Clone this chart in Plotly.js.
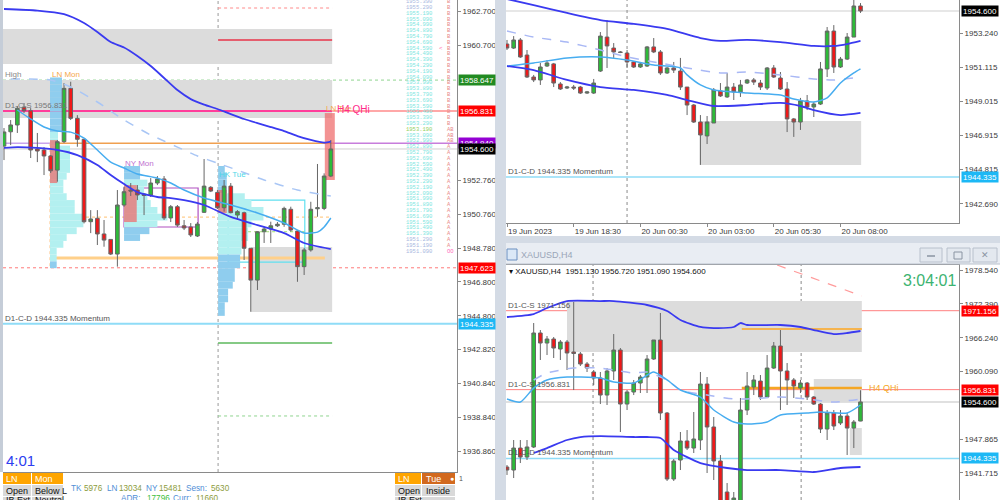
<!DOCTYPE html>
<html>
<head>
<meta charset="utf-8">
<script src="https://cdn.plot.ly/plotly-3.0.1.min.js"></script>
<style>
  html, body { margin: 0; padding: 0; background: #ffffff; }
  #chart { width: 1000px; height: 500px; }
</style>
</head>
<body>
<div id="chart"></div>
<script>
const FONT = 'Liberation Sans, Arial, sans-serif';
const MONO = 'Liberation Mono, DejaVu Sans Mono, monospace';

// ================= XAUUSD M15 (left pane) =================
const m15Open  = [1954.77,1955.61,1956.01,1957.05,1956.85,1954.60,1954.54,1954.19,1953.36,1955.03,1958.16,1956.40,1955.17,1950.33,1950.53,1949.61,1949.29,1948.43,1951.31,1952.19,1952.19,1951.95,1951.90,1952.60,1952.84,1950.55,1951.21,1950.09,1950.02,1949.49,1950.88,1952.35,1952.05,1951.15,1952.42,1950.72,1950.86,1948.77,1946.90,1949.74,1949.90,1950.09,1950.18,1951.06,1949.78,1947.69,1948.67,1951.09,1951.11,1953.01];
const m15High  = [1955.83,1956.30,1957.12,1957.30,1957.00,1955.54,1954.71,1954.24,1955.13,1958.47,1958.55,1956.59,1955.18,1951.01,1951.01,1950.43,1949.31,1952.19,1952.38,1952.60,1952.48,1952.01,1952.89,1953.01,1953.01,1951.31,1951.31,1950.43,1950.25,1950.31,1954.01,1952.42,1952.19,1952.78,1952.60,1951.01,1950.92,1948.78,1949.78,1950.03,1950.33,1950.31,1951.21,1951.21,1949.84,1948.78,1951.50,1953.72,1953.17,1955.13];
const m15Low   = [1953.95,1954.83,1955.54,1956.71,1954.07,1953.83,1953.07,1953.19,1952.68,1954.95,1956.30,1954.73,1950.23,1949.66,1948.96,1948.86,1948.37,1947.69,1951.21,1951.84,1951.60,1950.72,1951.78,1952.48,1950.43,1950.31,1950.02,1949.84,1949.43,1949.43,1950.84,1952.07,1951.07,1950.92,1950.82,1950.43,1948.08,1945.04,1946.32,1949.08,1949.08,1950.02,1950.03,1949.74,1946.80,1947.20,1948.57,1950.62,1951.01,1952.95];
const m15Close = [1955.60,1956.01,1956.99,1956.85,1954.54,1954.48,1954.19,1953.32,1955.03,1958.16,1956.40,1955.17,1950.33,1950.49,1949.61,1949.25,1948.43,1951.31,1952.09,1952.13,1951.90,1951.87,1952.60,1952.84,1950.55,1951.21,1950.13,1949.96,1949.55,1950.19,1952.42,1952.13,1951.15,1952.42,1950.86,1950.92,1948.77,1946.90,1949.74,1949.90,1950.09,1950.18,1951.11,1949.84,1947.69,1948.67,1951.06,1951.15,1953.01,1954.60];

const m15UpIdx   = [0,5,9,12,14,16,18,20,22,24,26,28,30,32,34,36,38,40,42,44,46,48,49];
const m15Up      = [1962.82,1962.73,1962.52,1962.00,1961.47,1960.88,1960.56,1960.06,1959.47,1958.77,1958.06,1957.53,1957.21,1956.95,1956.65,1956.36,1956.12,1955.89,1955.65,1955.36,1955.13,1954.97,1955.03];
const m15SlowIdx = [1,7,10,14,18,22,24,26,29,32,35,39,44,48,49];
const m15Slow    = [1958.71,1958.65,1958.24,1957.36,1956.30,1955.42,1955.07,1954.71,1954.19,1953.77,1953.36,1952.78,1952.19,1951.90,1951.84];
const m15FastIdx = [2,4,6,8,10,12,14,16,18,20,23,25,27,30,34,38,42,45,47,48,49];
const m15Fast    = [1956.89,1956.36,1955.89,1955.65,1955.59,1955.24,1954.54,1953.83,1953.48,1953.13,1952.89,1952.60,1952.19,1951.72,1951.31,1950.84,1950.25,1949.66,1949.72,1950.02,1950.55];
const m15LoIdx   = [0,2,5,8,11,14,16,18,20,23,25,27,30,34,38,42,45,49];
const m15Lo      = [1954.66,1954.71,1954.66,1954.54,1954.24,1953.66,1953.07,1952.54,1952.07,1951.78,1951.72,1951.60,1951.31,1950.61,1950.13,1949.66,1949.08,1948.72];

// session volume profiles (price bin, length in bars, 1 = value-area tone)
const lnMonStart = 6.9;
const lnMonPrices = [1958.6,1958.2,1957.8,1957.4,1957.0,1956.6,1956.2,1955.8,1955.4,1955.0,1954.6,1954.2,1953.8,1953.4,1953.0,1952.6,1952.2,1951.8,1951.4,1951.0,1950.6,1950.2,1949.8,1949.4,1949.0,1948.6,1948.2,1947.8];
const lnMonLen    = [1.8,1.8,1.8,1.8,1.8,1.8,1.8,1.8,1.2,1.2,3.0,3.0,3.0,3.0,2.5,2.0,2.0,2.5,3.7,3.7,5.0,5.0,4.0,2.5,2.0,1.0,1.0,1.0];
const lnMonTone   = [1,1,1,1,1,1,1,1,0,0,0,0,0,0,0,0,0,0,0,0,0,0,0,0,0,0,0,1];
const nyMonStart = 18.0;
const nyMonPrices = [1953.4,1953.0,1952.6,1952.2,1951.8,1951.4,1951.0,1950.6,1950.2,1949.8,1949.4];
const nyMonLen    = [2.4,2.4,3.5,3.0,3.5,4.0,5.0,6.5,5.0,3.8,2.4];
const nyMonTone   = [1,1,0,0,0,0,0,0,0,1,1];
const hkTueStart = 32.1;
const hkTuePrices = [1953.4,1953.0,1952.6,1952.2,1951.8,1951.4,1951.0,1950.6,1950.2,1949.8,1949.4,1949.0,1948.6,1948.2,1947.8,1947.4,1947.0,1946.6,1946.2,1945.8,1945.4,1945.0];
const hkTueLen    = [1.0,1.3,1.3,1.3,4.0,5.0,6.8,6.8,5.0,4.5,4.5,3.5,3.5,3.3,3.3,2.5,2.5,2.2,1.5,1.5,1.0,1.0];
const hkTueTone   = [1,1,1,1,0,0,0,0,0,0,0,0,0,1,1,1,1,1,1,1,1,1];

// session opening-range highlights
const hlStart  = [6.9, 18.0, 32.1, 48.1];
const hlEnd    = [8.0, 19.9, 33.4, 49.6];
const hlTop    = [1955.12, 1952.48, 1952.19, 1956.71];
const hlBottom = [1952.60, 1950.31, 1950.84, 1952.78];

// supply / demand zones
const m15ZoneStart  = [-0.15, -0.15, 37.0];
const m15ZoneEnd    = [49.2, 49.2, 49.2];
const m15ZoneTop    = [1961.64, 1958.647, 1948.84];
const m15ZoneBottom = [1959.59, 1956.42, 1945.03];

// key levels
const lvlHigh = 1958.647;
const lvlQHi = 1956.831;
const lvlLnOpen = 1954.940;
const lastPrice = 1954.600;
const lvlPrevLow = 1947.623;
const lvlMomentum = 1944.335;
const lvlUpperS = 1971.156;
const lvlIbHigh = 1961.00, lvlIbTop = 1962.88, lvlIbLow = 1943.20, lvlIbExt = 1938.92;
const lvlLnLow = 1948.20, lvlMid = 1950.60, lvlHkMid = 1949.74;
const nyBoxTop = 1952.31, nyBoxBottom = 1950.02;
const hkBoxTop = 1951.60, hkBoxBottom = 1947.96;

const m15Ticks = [1962.70,1960.70,1952.76,1950.76,1948.78,1946.80,1944.80,1942.82,1940.84,1938.84,1936.86];

// TPO ladder
const tpoPrices = ['1955.390','1955.290','1955.190','1955.090','1954.990','1954.890','1954.790','1954.690','1954.590','1954.490','1954.390','1954.290','1954.190','1954.090','1953.990','1953.890','1953.790','1953.690','1953.590','1953.490','1953.390','1953.290','1953.190','1953.090','1952.990','1952.890','1952.790','1952.690','1952.590','1952.490','1952.390','1952.290','1952.190','1952.090','1951.990','1951.890','1951.790','1951.690','1951.590','1951.490','1951.390','1951.290','1951.190','1951.090'];
const tpoLetters = ['B','B','B','B','B','B','B','B','B','B','B','B','B','B','B','B','B','B','B','B','B','B','AB','AB','AB','A','A','A','A','A','A','A','A','A','A','A','A','A','A','A','A','A','A','OO'];
const tpoTone = [0,0,1,1,1,1,1,1,1,1,1,1,1,1,1,1,1,1,1,1,1,1,2,1,1,1,1,1,1,1,1,1,1,1,1,1,1,1,1,1,1,0,0,0];

// ================= XAUUSD M30 (top-right pane) =================
const m30Open  = [1952.56,1952.31,1952.81,1951.88,1950.52,1950.34,1951.20,1951.33,1950.09,1949.84,1949.90,1949.90,1949.53,1949.53,1950.89,1952.99,1952.31,1952.07,1952.00,1951.45,1951.14,1951.20,1952.38,1952.07,1950.77,1951.08,1950.89,1949.90,1948.79,1947.74,1946.88,1947.68,1949.66,1949.29,1949.90,1949.60,1950.15,1950.34,1950.15,1949.84,1951.08,1950.46,1949.78,1947.93,1947.74,1949.04,1948.67,1948.85,1951.02,1953.36,1951.14,1951.63,1952.99,1954.91];
const m30High  = [1952.81,1953.05,1952.93,1952.19,1950.65,1951.39,1951.57,1951.39,1950.21,1949.97,1950.03,1949.97,1949.66,1950.40,1953.30,1954.04,1952.62,1952.13,1952.19,1951.51,1951.45,1952.44,1952.93,1952.19,1951.14,1951.45,1951.70,1949.90,1948.85,1948.17,1948.11,1949.84,1950.15,1950.77,1950.15,1950.34,1950.40,1950.46,1950.34,1951.14,1951.26,1950.83,1950.21,1947.99,1949.23,1949.41,1948.98,1951.45,1953.61,1953.73,1951.76,1953.24,1955.28,1955.09];
const m30Low   = [1952.19,1952.25,1951.70,1950.46,1950.21,1950.03,1951.14,1949.90,1949.72,1949.78,1949.72,1949.47,1949.47,1949.47,1950.83,1951.08,1951.70,1952.00,1951.08,1951.08,1951.08,1951.14,1952.00,1950.65,1950.71,1950.77,1949.72,1948.17,1947.68,1945.09,1946.38,1947.68,1949.29,1949.23,1949.10,1949.29,1950.09,1950.03,1949.72,1949.72,1950.46,1949.72,1947.12,1946.82,1947.25,1948.48,1948.05,1948.79,1950.52,1950.77,1951.08,1951.57,1952.99,1954.48];
const m30Close = [1952.31,1952.81,1951.76,1950.52,1950.34,1951.14,1951.39,1950.15,1949.78,1949.90,1949.84,1949.53,1949.60,1950.15,1953.05,1952.44,1952.07,1952.04,1951.45,1951.14,1951.33,1952.38,1952.07,1950.77,1951.08,1950.95,1949.90,1948.79,1947.74,1946.94,1947.74,1949.72,1949.35,1949.90,1949.60,1950.03,1950.34,1950.21,1949.90,1951.08,1950.52,1949.78,1947.93,1947.74,1949.04,1948.67,1948.85,1951.02,1953.36,1951.14,1951.63,1952.99,1954.91,1954.60];

const m30UpIdx   = [0,4,9,14,19,24,29,32,36,41,46,49,51,53];
const m30Up      = [1955.34,1954.97,1954.48,1954.04,1953.80,1953.49,1952.93,1952.75,1952.81,1952.68,1952.44,1952.44,1952.56,1952.75];
const m30SlowIdx = [0,4,9,14,18,22,27,32,36,41,46,49,53];
const m30Slow    = [1953.36,1952.99,1952.68,1952.19,1951.76,1951.45,1951.08,1950.77,1950.83,1950.65,1950.40,1950.34,1950.52];
const m30FastIdx = [0,4,9,14,18,22,26,27,29,31,36,41,43,46,48,50,52,53];
const m30Fast    = [1951.20,1951.39,1951.70,1951.76,1951.57,1951.26,1951.08,1950.65,1950.03,1949.72,1949.53,1949.41,1949.16,1948.98,1949.23,1950.15,1950.77,1951.02];
const m30LoIdx   = [0,4,9,14,19,24,27,31,36,41,44,46,50,53];
const m30Lo      = [1951.20,1950.95,1950.34,1949.90,1949.72,1949.41,1949.10,1948.73,1948.79,1948.92,1948.73,1948.48,1948.17,1948.30];

const m30Zone = {start: 28.9, end: 53.1, top: 1947.80, bottom: 1945.09};
const m30Ticks = [1953.240,1951.115,1949.015,1946.915,1944.815,1942.690];
const m30TimeIdx = [0,10,20,30,40,50];
const m30TimeText = ['19 Jun 2023','19 Jun 18:30','20 Jun 00:30','20 Jun 03:00','20 Jun 05:30','20 Jun 08:00'];

// ================= XAUUSD H4 (bottom-right pane) =================
const h4Open  = [1942.79,1942.24,1946.23,1944.60,1946.42,1967.11,1965.29,1966.02,1964.20,1965.47,1963.66,1963.30,1961.48,1960.03,1958.94,1955.85,1960.21,1964.02,1954.22,1956.40,1958.03,1959.12,1962.39,1965.84,1952.59,1940.61,1944.06,1947.51,1946.23,1947.69,1957.85,1950.05,1943.88,1938.25,1934.08,1935.89,1953.13,1957.31,1958.39,1955.49,1960.75,1964.75,1960.21,1958.58,1957.12,1958.03,1955.49,1954.22,1949.68,1952.59,1950.77,1952.04,1949.86,1951.13];
const h4High  = [1943.15,1947.69,1947.69,1947.69,1968.92,1967.65,1966.56,1966.38,1965.84,1965.84,1972.73,1963.66,1961.84,1960.39,1960.03,1960.75,1966.92,1964.38,1956.76,1958.58,1959.48,1963.11,1965.84,1970.74,1952.77,1944.24,1949.14,1949.50,1952.77,1960.03,1959.12,1951.86,1944.96,1939.88,1938.25,1955.31,1960.03,1959.48,1959.48,1963.11,1965.47,1967.65,1961.66,1958.94,1958.58,1958.21,1955.67,1954.40,1953.13,1953.13,1953.13,1952.59,1951.32,1956.72];
const h4Low   = [1941.34,1940.79,1943.51,1944.06,1946.23,1962.21,1963.11,1962.57,1962.21,1960.39,1956.76,1961.12,1960.03,1957.67,1954.22,1954.04,1958.58,1949.14,1953.13,1955.85,1956.22,1956.22,1962.21,1951.32,1940.25,1940.25,1942.24,1945.87,1945.33,1945.87,1941.70,1940.43,1934.08,1933.17,1933.17,1935.35,1952.22,1955.85,1954.95,1955.31,1960.57,1953.13,1954.04,1955.31,1956.22,1954.95,1954.04,1948.96,1947.69,1949.50,1950.41,1944.96,1946.23,1951.09];
const h4Close = [1942.24,1946.23,1944.60,1946.42,1967.11,1965.29,1966.02,1964.38,1965.47,1963.48,1963.39,1961.48,1960.75,1958.94,1955.85,1960.21,1964.02,1954.22,1956.40,1958.03,1959.12,1962.39,1965.84,1952.59,1940.61,1943.88,1947.51,1946.23,1947.87,1957.85,1950.05,1943.88,1935.89,1934.08,1937.16,1953.13,1957.49,1958.58,1955.49,1960.75,1964.75,1960.21,1958.58,1957.49,1958.03,1955.49,1954.22,1949.68,1952.59,1950.23,1952.04,1949.86,1950.95,1954.60];

const h4UpIdx   = [0,4,6,9,14,16,21,24,26,29,31,34,35,36,41,44,46,49,51,53];
const h4Up      = [1970.01,1970.55,1971.64,1972.91,1972.91,1972.91,1972.19,1971.10,1969.47,1968.20,1968.01,1968.20,1968.92,1968.56,1968.56,1968.20,1967.65,1966.92,1967.11,1967.47];
const h4SlowIdx = [4,6,10,14,16,19,21,24,26,30,34,36,41,45,49,53];
const h4Slow    = [1958.58,1959.85,1960.75,1960.75,1960.39,1959.85,1960.03,1958.58,1956.76,1955.85,1955.13,1955.13,1955.49,1955.13,1954.58,1955.13];
const h4FastIdx = [0,2,4,6,9,11,14,16,19,22,24,26,29,31,34,36,39,41,45,47,51,53];
const h4Fast    = [1955.13,1954.58,1957.12,1958.58,1959.12,1959.12,1958.94,1958.21,1958.03,1960.03,1958.58,1956.76,1955.49,1953.13,1950.95,1950.59,1950.95,1952.22,1952.59,1952.77,1952.59,1954.04];
const h4LoIdx   = [4,6,9,11,14,19,21,23,25,29,33,36,41,46,50,53];
const h4Lo      = [1945.33,1946.23,1947.69,1948.23,1948.41,1948.23,1948.23,1948.05,1945.87,1943.51,1942.61,1942.24,1942.24,1941.88,1942.61,1942.79];
const h4TrendIdx = [40.5, 53.2];
const h4Trend    = [1979.45, 1973.82];

const h4ZoneStart  = [9.0, 46.0, 51.4];
const h4ZoneEnd    = [53.2, 53.2, 53.2];
const h4ZoneTop    = [1972.91, 1958.76, 1949.86];
const h4ZoneBottom = [1963.66, 1954.60, 1944.96];
const h4OrangeUpper = 1967.83;
const h4QHi = 1957.12;
const h4Ticks = [1978.540,1972.390,1966.240,1960.090,1947.865,1941.715];

// ---------------- helpers ----------------
const PX = x => x / 1000;
const PY = y => 1 - y / 500;
const traces = [];
const shapes = [];
const annotations = [];

function candles(o, h, l, c, xa, ya) {
  return {
    type: 'candlestick', x: o.map((_, i) => i), open: o, high: h, low: l, close: c,
    xaxis: xa, yaxis: ya, whiskerwidth: 0, hoverinfo: 'skip', showlegend: false,
    increasing: {line: {color: '#666666', width: 1}, fillcolor: '#2dbb38'},
    decreasing: {line: {color: '#666666', width: 1}, fillcolor: '#f01818'}
  };
}
function curve(idx, vals, xa, ya, color, width, dash) {
  return {
    type: 'scatter', mode: 'lines', x: idx, y: vals, xaxis: xa, yaxis: ya,
    line: {color: color, width: width, dash: dash || 'solid', shape: 'spline', smoothing: 0.6},
    hoverinfo: 'skip', showlegend: false
  };
}
function profile(prices, lens, tones, start) {
  return {
    type: 'bar', orientation: 'h', y: prices, x: lens, base: start, width: 0.4,
    marker: {color: tones.map(t => t ? '#8fcdee' : '#b3f0f0'), line: {width: 0}},
    xaxis: 'x', yaxis: 'y', hoverinfo: 'skip', showlegend: false
  };
}
function hline(xa, ya, x0, x1, y, color, width, dash, layer) {
  shapes.push({type: 'line', xref: xa, yref: ya, x0: x0, x1: x1, y0: y, y1: y,
    line: {color: color, width: width, dash: dash || 'solid'}, layer: layer || 'below'});
}
function vline(xa, ya, x, color, dash) {
  shapes.push({type: 'line', xref: xa, yref: ya, x0: x, x1: x, y0: 0, y1: 1,
    line: {color: color, width: 1, dash: dash || 'dot'}, layer: 'below'});
}
function zone(xa, ya, x0, x1, y0, y1, fill, lineColor, dash) {
  shapes.push({type: 'rect', xref: xa, yref: ya, x0: x0, x1: x1, y0: y0, y1: y1,
    fillcolor: fill, line: {color: lineColor || 'rgba(0,0,0,0)', width: lineColor ? 1.2 : 0, dash: dash || 'solid'}, layer: 'below'});
}
function box(x0, y0, x1, y1, fill, lineColor) {
  shapes.push({type: 'rect', xref: 'paper', yref: 'paper', x0: PX(x0), x1: PX(x1), y0: PY(y1), y1: PY(y0),
    fillcolor: fill, line: {color: lineColor || 'rgba(0,0,0,0)', width: lineColor ? 1 : 0}, layer: 'above'});
}
function tag(xpx, ya, v, bg, fg) {
  annotations.push({xref: 'paper', x: PX(xpx), xanchor: 'left', yref: ya, y: v, yanchor: 'middle',
    text: v.toFixed(3), showarrow: false, bgcolor: bg, width: 36, height: 10, borderpad: 0,
    font: {family: FONT, size: 8, color: fg || '#ffffff'}});
}
function text(xref, x, yref, y, str, color, size, xanchor, yanchor, family) {
  annotations.push({xref: xref, x: x, yref: yref, y: y, text: str, showarrow: false,
    xanchor: xanchor || 'left', yanchor: yanchor || 'middle', borderpad: 0,
    font: {family: family || FONT, size: size || 8, color: color || '#555555'}});
}

// ---------------- left pane traces ----------------
traces.push(profile(lnMonPrices, lnMonLen, lnMonTone, lnMonStart));
traces.push(profile(nyMonPrices, nyMonLen, nyMonTone, nyMonStart));
traces.push(profile(hkTuePrices, hkTueLen, hkTueTone, hkTueStart));
traces.push({
  type: 'bar', orientation: 'h', xaxis: 'x', yaxis: 'y', hoverinfo: 'skip', showlegend: false,
  y: hlTop.map((t, i) => (t + hlBottom[i]) / 2),
  width: hlTop.map((t, i) => t - hlBottom[i]),
  base: hlStart, x: hlEnd.map((e, i) => e - hlStart[i]),
  marker: {color: 'rgba(238,105,105,0.72)', line: {width: 0}}
});
traces.push(candles(m15Open, m15High, m15Low, m15Close, 'x', 'y'));
traces.push(curve(m15SlowIdx, m15Slow, 'x', 'y', '#a9c6f5', 1.5, 'dash'));
traces.push(curve(m15FastIdx, m15Fast, 'x', 'y', '#47adf0', 1.5));
traces.push(curve(m15UpIdx, m15Up, 'x', 'y', '#3a3af0', 1.8));
traces.push(curve(m15LoIdx, m15Lo, 'x', 'y', '#3a3af0', 1.8));

// ---------------- M30 traces ----------------
traces.push(candles(m30Open, m30High, m30Low, m30Close, 'x2', 'y2'));
traces.push(curve(m30SlowIdx, m30Slow, 'x2', 'y2', '#a9b8f5', 1.5, 'dash'));
traces.push(curve(m30FastIdx, m30Fast, 'x2', 'y2', '#47adf0', 1.5));
traces.push(curve(m30UpIdx, m30Up, 'x2', 'y2', '#3a3af0', 1.8));
traces.push(curve(m30LoIdx, m30Lo, 'x2', 'y2', '#3a3af0', 1.8));

// ---------------- H4 traces ----------------
traces.push(candles(h4Open, h4High, h4Low, h4Close, 'x3', 'y3'));
traces.push(curve(h4SlowIdx, h4Slow, 'x3', 'y3', '#a9b8f5', 1.5, 'dash'));
traces.push(curve(h4FastIdx, h4Fast, 'x3', 'y3', '#47adf0', 1.5));
traces.push(curve(h4UpIdx, h4Up, 'x3', 'y3', '#3a3af0', 1.8));
traces.push(curve(h4LoIdx, h4Lo, 'x3', 'y3', '#3a3af0', 1.8));
traces.push({type: 'scatter', mode: 'lines', x: h4TrendIdx, y: h4Trend, xaxis: 'x3', yaxis: 'y3',
  line: {color: '#ff9a9a', width: 1.2, dash: 'dash'}, hoverinfo: 'skip', showlegend: false});

// ---------------- left pane levels & zones ----------------
m15ZoneTop.forEach((t, i) => zone('x', 'y', m15ZoneStart[i], m15ZoneEnd[i], m15ZoneBottom[i], t, '#dcdcdc'));
hline('x', 'y', 32.1, 49.2, lvlIbTop, '#ff8a8a', 1, 'dot');
hline('x', 'y', 32.1, 49.2, lvlIbHigh, '#e8344a', 1.5);
hline('x domain', 'y', 0, 1, lvlHigh, '#8fd48f', 1, 'dot');
hline('x', 'y', -0.15, 49.2, lvlQHi, '#ff3d9a', 2);
hline('x', 'y', 49.2, 67.92, lvlQHi, '#ffa8a8', 2);
hline('x', 'y', -0.15, lnMonStart, lvlLnOpen, '#c9a4ec', 1.5);
hline('x', 'y', lnMonStart, 49.2, lvlLnOpen, '#f0a050', 1.5);
hline('x', 'y', 49.2, 67.92, lvlLnOpen, '#c77ddc', 1.5);
hline('x domain', 'y', 0, 1, lastPrice, '#cfcfcf', 1);
hline('x', 'y', lnMonStart, 49.2, lvlMid, '#ffc070', 1, 'dot');
hline('x', 'y', hkTueStart, 45.1, lvlHkMid, '#a0e070', 1, 'dot');
hline('x', 'y', lnMonStart, 48.1, lvlLnLow, '#ffd08a', 3);
hline('x domain', 'y', 0, 1, lvlPrevLow, '#ff7a7a', 1, 'dot');
hline('x domain', 'y', 0, 1, lvlMomentum, '#8fdcf7', 2);
hline('x', 'y', 32.1, 49.2, lvlIbLow, '#5cb85c', 1.5);
hline('x', 'y', 32.1, 49.2, lvlIbExt, '#8fd48f', 1, 'dot');
zone('x', 'y', nyMonStart, 29.1, nyBoxBottom, nyBoxTop, 'rgba(0,0,0,0)', '#b050c0');
zone('x', 'y', 33.6, 45.1, hkBoxBottom, hkBoxTop, 'rgba(0,0,0,0)', '#60e0f0');
vline('x', 'y domain', 32.1, '#9a9a9a');
shapes.push({type: 'line', xref: 'x', yref: 'y', x0: lnMonStart, x1: lnMonStart, y0: lvlLnOpen, y1: lvlPrevLow,
  line: {color: '#ffc080', width: 1, dash: 'dot'}, layer: 'below'});

// ---------------- M30 levels ----------------
zone('x2', 'y2', m30Zone.start, m30Zone.end, m30Zone.bottom, m30Zone.top, '#dcdcdc');
hline('x2 domain', 'y2', 0, 1, lastPrice, '#cfcfcf', 1);
hline('x2 domain', 'y2', 0, 1, lvlMomentum, '#8fdcf7', 1.5);
vline('x2', 'y2 domain', 18.0, '#8a8a8a');

// ---------------- H4 levels ----------------
h4ZoneTop.forEach((t, i) => zone('x3', 'y3', h4ZoneStart[i], h4ZoneEnd[i], h4ZoneBottom[i], t, '#dcdcdc'));
hline('x3 domain', 'y3', 0, 1, lvlUpperS, '#ff8080', 1);
hline('x3 domain', 'y3', 0, 1, lvlQHi, '#ff8080', 1);
hline('x3 domain', 'y3', 0, 1, lastPrice, '#d6d6d6', 1.5);
hline('x3 domain', 'y3', 0, 1, lvlMomentum, '#8fdcf7', 1.5);
hline('x3', 'y3', 35.2, 53.2, h4OrangeUpper, '#f5b450', 2);
hline('x3', 'y3', 35.2, 53.2, h4QHi, '#f5a623', 2.5);
vline('x3', 'y3 domain', 12.9, '#8a8a8a');
vline('x3', 'y3 domain', 44.1, '#8a8a8a');

// ---------------- window chrome ----------------
box(0, 0, 3, 472, '#c5cdd8');
box(495, 0, 506, 500, '#d4dbe5');
box(500, 236, 1000, 243, '#d4dbe5');
box(506, 243, 1000, 264, '#e9edf3');
shapes.push({type: 'line', xref: 'paper', yref: 'paper', x0: PX(506), x1: 1, y0: PY(264), y1: PY(264), line: {color: '#b8c0cc', width: 1}});
box(507, 249, 517, 260, '#dbe8f7', '#6a8fc0');
box(920, 248, 942, 262, '#e3e8ef', '#b8c0cc');
box(947, 248, 970, 262, '#e3e8ef', '#b8c0cc');
box(973, 248, 997, 262, '#e3e8ef', '#b8c0cc');
shapes.push({type: 'line', xref: 'paper', yref: 'paper', x0: PX(927), x1: PX(935), y0: PY(256), y1: PY(256), line: {color: '#8a94a2', width: 1.5}});
box(954, 252, 962, 259, 'rgba(0,0,0,0)', '#8a94a2');
text('paper', PX(985), 'paper', PY(255), '✕', '#8a94a2', 9, 'center');
text('paper', PX(520), 'paper', PY(255), 'XAUUSD,H4', '#9aa6b8', 9);

// bottom tables
box(3, 473, 31, 484, '#ffa500');
box(32, 473, 63, 484, '#ffa500');
box(3, 485, 31, 496, '#d9d9d9');
box(32, 485, 63, 496, '#d9d9d9');
box(3, 497, 31, 500, '#d9d9d9');
box(32, 497, 63, 500, '#d9d9d9');
box(395, 473, 421, 484, '#ffa500');
box(422, 473, 455, 484, '#d2691e');
box(395, 485, 421, 496, '#d9d9d9');
box(422, 485, 455, 496, '#d9d9d9');
box(395, 497, 421, 500, '#d9d9d9');
box(422, 497, 455, 500, '#d9d9d9');
text('paper', PX(5), 'paper', PY(478.5), 'LN', '#ffffff', 9);
text('paper', PX(34), 'paper', PY(478.5), 'Mon', '#ffffff', 9);
text('paper', PX(5), 'paper', PY(490.5), 'Open', '#111111', 9);
text('paper', PX(34), 'paper', PY(490.5), 'Below L', '#111111', 9);
text('paper', PX(5), 'paper', PY(500.5), 'IB Ext', '#111111', 9);
text('paper', PX(34), 'paper', PY(500.5), 'Neutral', '#111111', 9);
text('paper', PX(397), 'paper', PY(478.5), 'LN', '#ffffff', 9);
text('paper', PX(425), 'paper', PY(478.5), 'Tue', '#ffffff', 9);
text('paper', PX(449), 'paper', PY(478.5), '●', '#ffffff', 7);
text('paper', PX(397), 'paper', PY(490.5), 'Open', '#111111', 9);
text('paper', PX(425), 'paper', PY(490.5), 'Inside', '#111111', 9);
text('paper', PX(397), 'paper', PY(500.5), 'IB Ext', '#111111', 9);
text('paper', PX(430), 'paper', PY(500.5), '...', '#111111', 9);
text('paper', PX(458), 'paper', PY(478), '1', '#555555', 7);

// session stats
const statWords = [['TK', 70, 488, '#4f8ed6'], ['5976', 83, 488, '#8c9c3c'], ['LN', 106, 488, '#4f8ed6'], ['13034', 118, 488, '#8c9c3c'],
  ['NY', 145, 488, '#4f8ed6'], ['15481', 158, 488, '#8c9c3c'], ['Sesn:', 185, 488, '#4f8ed6'], ['5630', 210, 488, '#8c9c3c'],
  ['ADR:', 120, 498, '#4f8ed6'], ['17796', 146, 498, '#3cc03c'], ['Curr:', 172, 498, '#4f8ed6'], ['11660', 195, 498, '#8c9c3c']];
statWords.forEach(w => text('paper', PX(w[1]), 'paper', PY(w[2]), w[0], w[3], 8.2));

// ---------------- left pane labels ----------------
text('paper', PX(4), 'y', lvlHigh, 'High', '#8a8a8a', 8, 'left', 'bottom');
text('x', lnMonStart + 0.2, 'y', lvlHigh, 'LN Mon', '#f5a84a', 8, 'left', 'bottom');
text('paper', PX(4), 'y', lvlQHi, 'D1-C-S 1956.831', '#777777', 8, 'left', 'bottom');
text('x', nyMonStart, 'y', 1953.72, 'NY Mon', '#c070d0', 8);
text('x', hkTueStart, 'y', 1953.13, 'HK Tue', '#50d8e8', 8);
text('x', 48.1, 'y', 1956.95, 'LN Tue', '#f5a84a', 8);
text('x', 49.8, 'y', 1956.90, 'H4 QHi', '#ff2a8a', 10);
text('paper', PX(4), 'y', lvlMomentum, 'D1-C-D 1944.335 Momentum', '#555555', 8, 'left', 'bottom');
text('paper', PX(5), 'paper', PY(460), '4:01', '#2d3ef0', 15);

tpoPrices.forEach((p, i) => {
  const col = ['#a8b8e0', '#7ee6e0', '#90d060'][tpoTone[i]];
  text('paper', PX(405), 'paper', PY(1.7 + i * 5.8), p, col, 5.5, 'left', 'middle', MONO);
  text('paper', PX(446), 'paper', PY(1.7 + i * 5.8), tpoLetters[i], tpoLetters[i] === 'OO' ? '#ff70c0' : '#e88a8a', 5.5, 'left', 'middle', MONO);
});
text('paper', PX(438), 'paper', PY(1.7 + 8 * 5.8), '<', '#ff66aa', 6, 'left', 'middle', MONO);

tag(458, 'y', lvlHigh, '#228b22');
tag(458, 'y', lvlQHi, '#ff0000');
tag(458, 'y', lvlLnOpen, '#9400d3');
tag(458, 'y', lastPrice, '#000000');
tag(458, 'y', lvlPrevLow, '#ff0000');
tag(458, 'y', lvlMomentum, '#1cb8f5');

// ---------------- M30 labels ----------------
text('paper', PX(507), 'y2', lvlMomentum, 'D1-C-D 1944.335 Momentum', '#555555', 8, 'left', 'bottom');
tag(960.5, 'y2', lastPrice, '#000000');
tag(960.5, 'y2', lvlMomentum, '#1cb8f5');

// ---------------- H4 labels ----------------
const last = h4Open.length - 1;
text('paper', PX(508), 'paper', PY(271),
  '▾ XAUUSD,H4&nbsp;&nbsp;' + [h4Open[last], h4High[last], h4Low[last], h4Close[last]].map(v => v.toFixed(3)).join(' '),
  '#111111', 8);
text('paper', PX(957), 'paper', PY(280), '3:04:01', '#3cb371', 16, 'right');
text('paper', PX(507), 'y3', lvlUpperS, 'D1-C-S 1971.156', '#555555', 8, 'left', 'bottom');
text('paper', PX(507), 'y3', lvlQHi, 'D1-C-S 1956.831', '#555555', 8, 'left', 'bottom');
text('paper', PX(507), 'y3', lvlMomentum, 'D1-C-D 1944.335 Momentum', '#555555', 8, 'left', 'bottom');
text('paper', PX(868), 'y3', h4QHi, 'H4 QHi', '#f5a623', 9);
tag(960.5, 'y3', lvlUpperS, '#ff0000');
tag(960.5, 'y3', lvlQHi, '#ff0000');
tag(960.5, 'y3', lastPrice, '#000000');
tag(960.5, 'y3', lvlMomentum, '#1cb8f5');

// ---------------- axes ----------------
const base = {showgrid: false, zeroline: false, fixedrange: true};
const tickFont = {family: FONT, size: 8, color: '#3a3a3a'};
const fmt = v => v.toFixed(3);

const layout = {
  width: 1000, height: 500, margin: {l: 0, r: 0, t: 0, b: 0},
  paper_bgcolor: '#ffffff', plot_bgcolor: '#ffffff', showlegend: false,
  barmode: 'overlay', boxgap: 0.22,
  xaxis: Object.assign({}, base, {domain: [0.003, 0.457], range: [-0.15, 67.92], anchor: 'y',
    showticklabels: false, showline: true, linecolor: '#8a8a8a', ticks: '', rangeslider: {visible: false}}),
  yaxis: Object.assign({}, base, {domain: [0.056, 1], range: [1935.63, 1963.35], anchor: 'x', side: 'right',
    showline: true, linecolor: '#8a8a8a', ticks: 'outside', ticklen: 3, tickcolor: '#8a8a8a',
    tickvals: m15Ticks, ticktext: m15Ticks.map(fmt), tickfont: tickFont}),
  xaxis2: Object.assign({}, base, {domain: [0.506, 0.959], range: [-0.15, 67.77], anchor: 'y2',
    showline: true, linecolor: '#8a8a8a', ticks: 'outside', ticklen: 3, tickcolor: '#8a8a8a',
    tickvals: m30TimeIdx, ticktext: m30TimeText, ticklabelposition: 'outside right', tickangle: 0,
    tickfont: tickFont, rangeslider: {visible: false}}),
  yaxis2: Object.assign({}, base, {domain: [0.554, 1], range: [1941.50, 1955.28], anchor: 'x2', side: 'right',
    showline: true, mirror: true, linecolor: '#8a8a8a', ticks: 'outside', ticklen: 3, tickcolor: '#8a8a8a',
    tickvals: m30Ticks, ticktext: m30Ticks.map(fmt), tickfont: tickFont}),
  xaxis3: Object.assign({}, base, {domain: [0.506, 0.959], range: [-0.15, 67.77], anchor: 'y3',
    showticklabels: false, showline: true, mirror: true, linecolor: '#8a8a8a', ticks: '', rangeslider: {visible: false}}),
  yaxis3: Object.assign({}, base, {domain: [0, 0.47], range: [1936.80, 1979.45], anchor: 'x3', side: 'right',
    showline: true, mirror: true, linecolor: '#8a8a8a', ticks: 'outside', ticklen: 3, tickcolor: '#8a8a8a',
    tickvals: h4Ticks, ticktext: h4Ticks.map(fmt), tickfont: tickFont}),
  shapes: shapes,
  annotations: annotations
};

Plotly.newPlot('chart', traces, layout, {staticPlot: true, displayModeBar: false});
</script>
</body>
</html>
